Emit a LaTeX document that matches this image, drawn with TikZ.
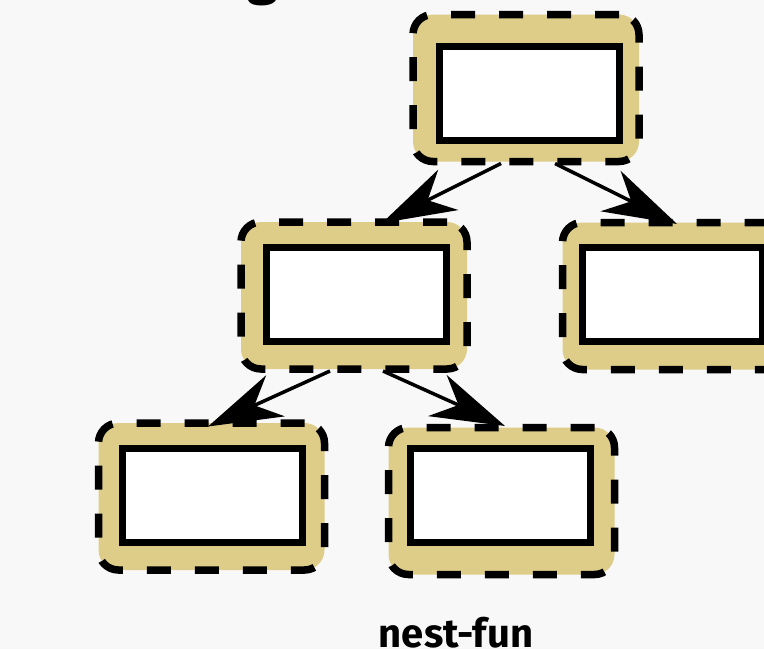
\documentclass[tikz,border=0pt]{standalone}
\usepackage{fontspec}
\setmainfont{Fira Sans}
\usetikzlibrary{arrows.meta,calc}
\definecolor{bgcol}{HTML}{F8F8F8}
\definecolor{tan}{RGB}{222,205,137}
\tikzset{
  outerbox/.style={rectangle, rounded corners=20pt, minimum width=226pt,
    minimum height=147pt, fill=tan, draw=black, line width=7.5pt,
    dash pattern=on 24pt off 24pt, outer sep=0pt, inner sep=0pt},
  innerbox/.style={rectangle, minimum width=180pt, minimum height=94pt,
    fill=white, draw=black, line width=7pt, inner sep=0pt, outer sep=0pt},
  arr/.style={line width=3.5pt, -{Stealth[length=74pt,width=45pt,inset=23pt]}},
  caption/.style={font=\fontsize{40}{44}\selectfont\bfseries, anchor=base}
}
\begin{document}
\begin{tikzpicture}[x=1pt,y=-1pt]
  \fill[bgcol] (0,0) rectangle (764,649);
  \useasboundingbox (0,0) rectangle (764,649);

  % title descender peeking in at the top edge
  \node[font=\fontsize{56}{60}\selectfont\bfseries, anchor=base] (title) at (263,-7) {g};

  % tree of boxes
  \node[outerbox] (top) at (526,88) {};
  \node[outerbox] (ml)  at (354,295.5) {};
  \node[outerbox] (rt)  at (675.5,296) {};
  \node[outerbox] (bl)  at (211.5,496.5) {};
  \node[outerbox] (bm)  at (501.5,501) {};

  \node[innerbox] (topin) at (529,93) {};
  \node[innerbox] (mlin)  at (356.5,294.5) {};
  \node[innerbox] (rtin)  at (672.5,294.5) {};
  \node[innerbox] (blin)  at (212.5,495.5) {};
  \node[innerbox] (bmin)  at (500.5,495.5) {};

  % parent-to-child connectors
  \draw[arr] ([xshift=-25pt,yshift=-2pt]top.south) -- ([xshift=28pt,yshift=-1pt]ml.north);
  \draw[arr] ([xshift=29pt,yshift=-2pt]top.south) -- ([xshift=1.5pt,yshift=-1.5pt]rt.north);
  \draw[arr] ([xshift=-24pt,yshift=-2pt]ml.south) -- ([xshift=-3.5pt,yshift=-3.5pt]bl.north);
  \draw[arr] ([xshift=29pt,yshift=-2pt]ml.south) -- ([xshift=3.5pt,yshift=1.5pt]bm.north);

  \node[caption] (cap) at (456,647) {nest-fun};
\end{tikzpicture}
\end{document}
